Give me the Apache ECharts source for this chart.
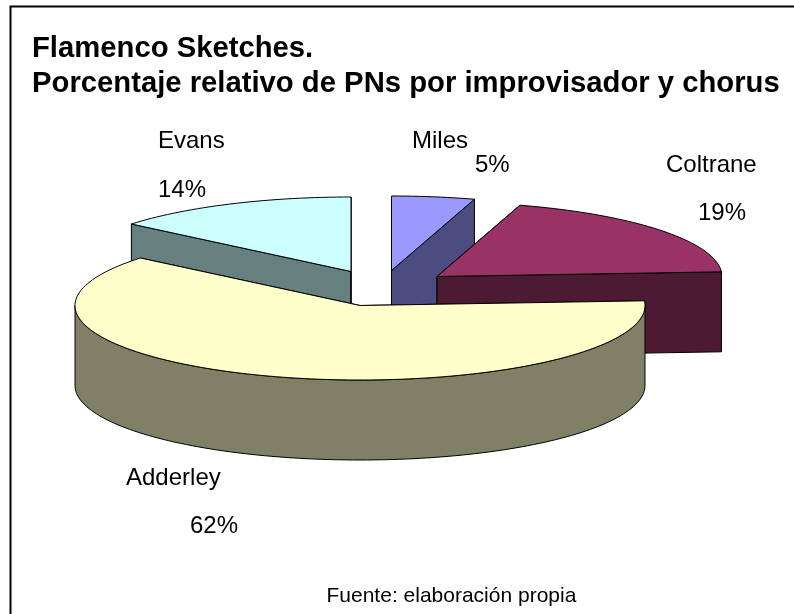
<!DOCTYPE html>
<html><head><meta charset="utf-8">
<style>html,body{margin:0;padding:0;background:#fff}#c{width:794px;height:614px}</style>
<script src="https://cdn.jsdelivr.net/npm/echarts@6/dist/echarts.min.js"></script>
</head><body><div id="c"></div>
<script>
// Data
const names = ['Miles', 'Coltrane', 'Adderley', 'Evans'];
const values = [4.7, 19.3, 62, 14];
const topColors = ['#9999FF', '#993366', '#FFFFCC', '#CCFFFF'];
const wallColors = ['#4C4C80', '#4D1A33', '#808066', '#668080'];
const titleLines = ['Flamenco Sketches.', 'Porcentaje relativo de PNs por improvisador y chorus'];
const sourceNote = 'Fuente: elaboración propia';

// Layout (not data)
const apexes = [[391.5, 270.5], [437, 276.5], [360, 305.5], [351, 271.5]];
const namePos = [[412, 141], [666, 165], [126, 478], [158, 141]];
const pctPos = [[475, 165], [698, 213], [190, 526], [158, 190]];
const drawRank = [1, 2, 3, 0];
const RX = 285, RY = 74.5, DEPTH = 80;
const FONT = '"Liberation Sans", Arial, sans-serif';

const total = values.reduce((a, b) => a + b, 0);
const rad = d => d * Math.PI / 180;
const pt = (c, deg, dy) => [c[0] + RX * Math.sin(rad(deg)), c[1] - RY * Math.cos(rad(deg)) + (dy || 0)];
function arc(c, a0, a1, dy) {
  const out = [], n = Math.max(2, Math.ceil((a1 - a0) / 1.5));
  for (let i = 0; i <= n; i++) out.push(pt(c, a0 + (a1 - a0) * i / n, dy));
  return out;
}
function poly(points, fill, z2) {
  return { type: 'polygon', z2, shape: { points }, style: { fill, stroke: '#000', lineWidth: 1, lineJoin: 'round' } };
}
function label(text, p) {
  return { type: 'text', z2: 100, style: { x: p[0], y: p[1], text, fill: '#000', font: '24px ' + FONT, textAlign: 'left', textVerticalAlign: 'middle' } };
}

function renderItem(params, api) {
  const i = params.dataIndex;
  const v = api.value(0);
  let before = 0;
  for (let k = 0; k < i; k++) before += values[k];
  const a0 = before / total * 360, a1 = (before + v) / total * 360;
  const c = apexes[i], r = drawRank[i] * 10, wall = wallColors[i];
  const kids = [];
  const cut = a => [c, pt(c, a), pt(c, a, DEPTH), [c[0], c[1] + DEPTH]];
  kids.push(poly(cut(a0), wall, r));
  kids.push(poly(cut(a1), wall, r + 1));
  const f0 = Math.max(a0, 90), f1 = Math.min(a1, 270);
  if (f1 > f0) kids.push(poly(arc(c, f0, f1, 0).concat(arc(c, f0, f1, DEPTH).reverse()), wall, r + 2));
  kids.push(poly([c].concat(arc(c, a0, a1, 0)), topColors[i], r + 3));
  kids.push(label(names[i], namePos[i]));
  kids.push(label(Math.round(v / total * 100) + '%', pctPos[i]));
  return { type: 'group', children: kids };
}

const chart = echarts.init(document.getElementById('c'), null, { renderer: 'canvas' });
chart.setOption({
  animation: false,
  backgroundColor: '#fff',
  title: {
    text: titleLines.join('\n'), left: 27, top: 26.5,
    textStyle: { fontFamily: FONT, fontSize: 29.25, fontWeight: 'bold', color: '#000', lineHeight: 35 }
  },
  graphic: [
    { type: 'polyline', silent: true, shape: { points: [[10.5, 614], [10.5, 6.5], [794, 6.5]] }, style: { fill: null, stroke: '#000', lineWidth: 2 } },
    { type: 'text', left: 326.5, top: 586, style: { text: sourceNote, fill: '#000', font: '21px ' + FONT } }
  ],
  series: [{
    type: 'custom', coordinateSystem: 'none', renderItem,
    data: values.map((v, i) => ({ name: names[i], value: [v] }))
  }]
});
</script></body></html>
